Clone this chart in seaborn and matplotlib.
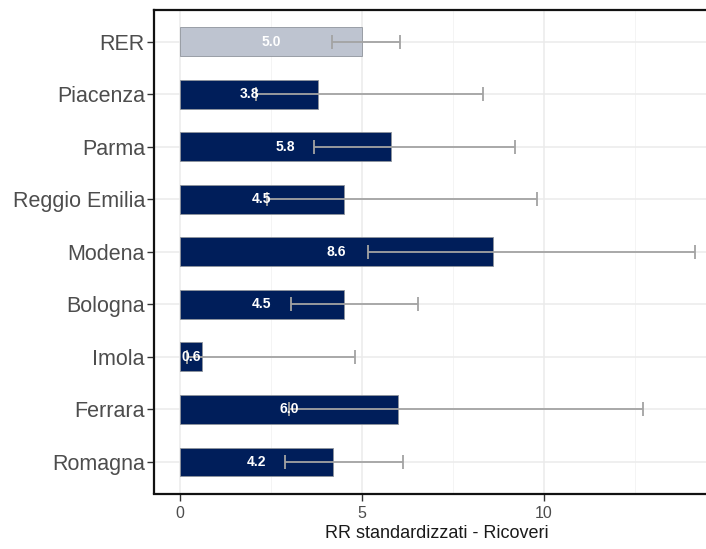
import numpy as np
import pandas as pd
import matplotlib
matplotlib.use("Agg")
import matplotlib.pyplot as plt
from matplotlib.ticker import MultipleLocator
import seaborn as sns

# data
areas = ["RER", "Piacenza", "Parma", "Reggio Emilia", "Modena",
         "Bologna", "Imola", "Ferrara", "Romagna"]
rr = [5.0, 3.8, 5.8, 4.5, 8.6, 4.5, 0.6, 6.0, 4.2]
ci_low = [4.17, 2.1, 3.69, 2.4, 5.18, 3.05, 0.2, 3.0, 2.90]
ci_high = [6.06, 8.34, 9.22, 9.81, 14.15, 6.55, 4.80, 12.74, 6.12]
group = ["regione"] + ["azienda"] * 8

df = pd.DataFrame({"area": areas, "rr": rr, "low": ci_low,
                   "high": ci_high, "group": group})

sns.set_theme(style="whitegrid")
plt.rcParams["font.family"] = ["Liberation Sans", "DejaVu Sans"]

fig = plt.figure(figsize=(7.06, 5.49), dpi=100)
ax = fig.add_axes([154 / 706, 1 - 493.5 / 549, 566.6 / 706, 483.5 / 549])

palette = {"regione": "#BEC4D0", "azienda": "#001E5A"}
sns.barplot(data=df, x="rr", y="area", hue="group", palette=palette,
            order=areas, width=0.55, dodge=False, legend=False,
            saturation=1, edgecolor="#8F949C", linewidth=0.6, ax=ax,
            zorder=2)

ypos = np.arange(len(areas))
ax.errorbar(df["rr"], ypos,
            xerr=[df["rr"] - df["low"], df["high"] - df["rr"]],
            fmt="none", ecolor="#A3A3A3", elinewidth=1.3, capsize=5,
            capthick=1.3, zorder=3)

for cont in ax.containers:
    if hasattr(cont, "datavalues"):
        labs = [f"{v:.1f}" if v > 0 else "" for v in cont.datavalues]
        ax.bar_label(cont, labels=labs, label_type="center", color="white",
                     fontsize=10, fontweight="bold", zorder=4)

ax.set_xlim(-0.71, 14.86)
ax.set_ylim(len(areas) - 0.4, -0.6)
ax.xaxis.set_major_locator(MultipleLocator(5))
ax.xaxis.set_minor_locator(MultipleLocator(2.5))
ax.grid(which="major", color="#EBEBEB", linewidth=1.1)
ax.grid(which="minor", axis="x", color="#F4F4F4", linewidth=0.7)
ax.set_axisbelow(True)

ax.set_xlabel("RR standardizzati - Ricoveri", fontsize=13, color="#1A1A1A",
              labelpad=3)
ax.set_ylabel("")
ax.tick_params(axis="y", labelsize=15.5, labelcolor="#4D4D4D", length=5,
               width=1, color="#333333", left=True, pad=1.5)
ax.tick_params(axis="x", labelsize=11.5, labelcolor="#4D4D4D", length=5,
               width=1, color="#333333", bottom=True, pad=4)
ax.tick_params(axis="x", which="minor", length=0)

for side in ax.spines.values():
    side.set_visible(True)
    side.set_color("#111111")
    side.set_linewidth(1.6)

fig.savefig("out.png", dpi=100, facecolor="white")
